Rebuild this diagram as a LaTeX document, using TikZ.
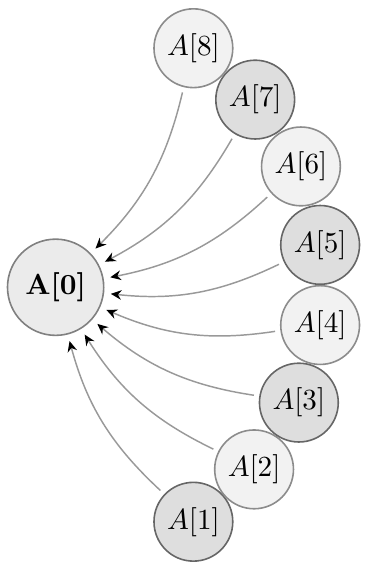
\documentclass[tikz,border=0pt]{standalone}
\usepackage{amsmath}
\usepackage{tikz}
\usetikzlibrary{arrows.meta}

\begin{document}
\begin{tikzpicture}[
  every node/.style = {font=\fontsize{10.95}{13}\selectfont},
  rootnode/.style = {circle, draw=black!50, semithick, fill=black!8,
                     minimum size=1.27cm, inner sep=0pt},
  oddnode/.style  = {circle, draw=black!60, semithick, fill=black!13,
                     minimum size=1.04cm, inner sep=0pt},
  evennode/.style = {circle, draw=black!45, semithick, fill=black!5,
                     minimum size=1.04cm, inner sep=0pt},
  arr/.style = {-{Stealth[length=4pt, width=3.6pt, black]}, black!40,
                line width=0.55pt, shorten >=2.5pt, shorten <=2pt,
                bend left=16},
]
\useasboundingbox (-0.554, -3.670) rectangle (4.264, 3.762);

%% ── Root ──────────────────────────────────────────────────────────────────
\node[rootnode] at (0.18, -0.03) (a0) {\textbf{A[0]}};

%% ── Elements on the arc ──────────────────────────────────────────────────
\node[oddnode]  at (-57.4:3.71) (a1) {$A[1]$};
\node[evennode] at (-41.0:3.71) (a2) {$A[2]$};
\node[oddnode]  at (-24.6:3.73) (a3) {$A[3]$};
\node[evennode] at (-8.2:3.71)  (a4) {$A[4]$};
\node[oddnode]  at (8.2:3.71)   (a5) {$A[5]$};
\node[evennode] at (24.6:3.76)  (a6) {$A[6]$};
\node[oddnode]  at (41.0:3.73)  (a7) {$A[7]$};
\node[evennode] at (57.4:3.71)  (a8) {$A[8]$};

%% ── Arrows into the root ─────────────────────────────────────────────────
\draw[arr] (a1) to (a0);
\draw[arr] (a2) to (a0);
\draw[arr] (a3) to (a0);
\draw[arr] (a4) to (a0);
\draw[arr] (a5) to (a0);
\draw[arr] (a6) to (a0);
\draw[arr] (a7) to (a0);
\draw[arr] (a8) to (a0);

\end{tikzpicture}
\end{document}
